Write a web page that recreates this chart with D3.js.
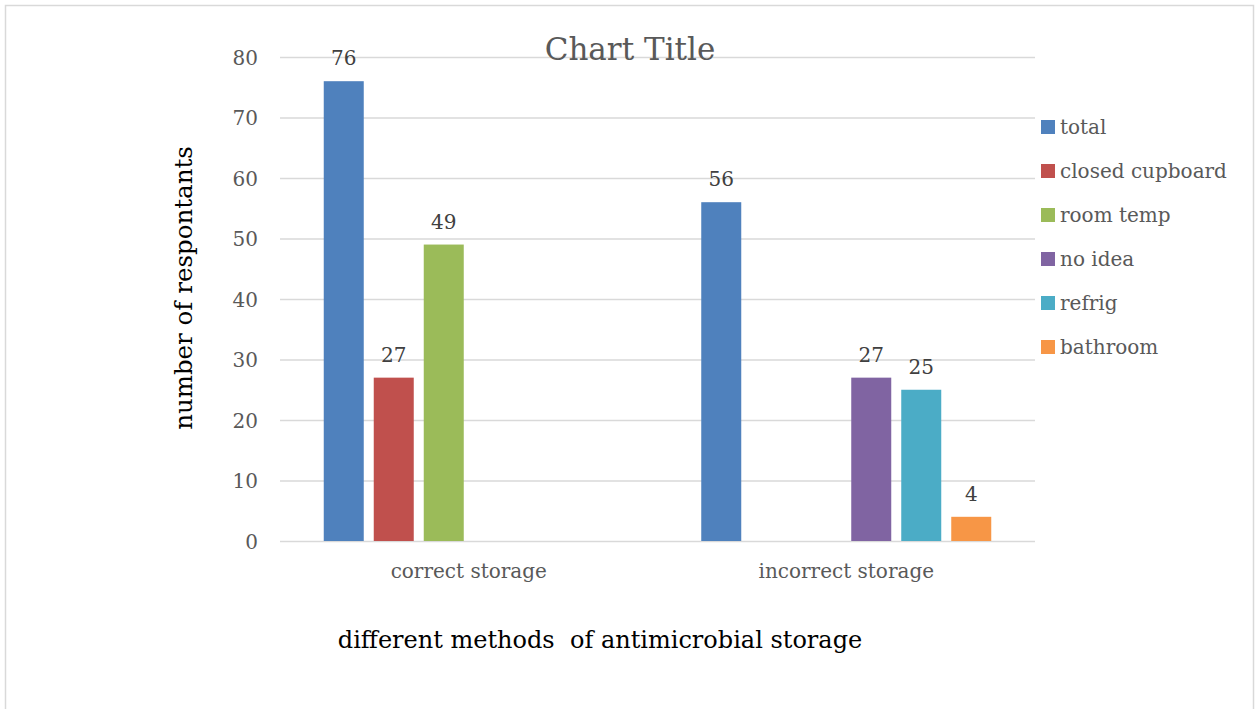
<!DOCTYPE html>
<html><head><meta charset="utf-8">
<script src="https://cdn.jsdelivr.net/npm/d3@7"></script>
<style>
html,body{margin:0;padding:0;background:#fff;}
text{font-family:"DejaVu Serif","Liberation Serif",serif;}
</style></head>
<body>
<svg id="chart" width="1256" height="709"></svg>
<script>
const categories = ["correct storage", "incorrect storage"];
const seriesNames = ["total", "closed cupboard", "room temp", "no idea", "refrig", "bathroom"];
const seriesColors = ["#4F81BD", "#C0504D", "#9BBB59", "#8064A2", "#4BACC6", "#F79646"];
// values per series, indexed by category (null = no bar)
const total = [76, 56];
const closedCupboard = [27, null];
const roomTemp = [49, null];
const noIdea = [null, 27];
const refrig = [null, 25];
const bathroom = [null, 4];
const yTicks = [0, 10, 20, 30, 40, 50, 60, 70, 80];
const seriesValues = [total, closedCupboard, roomTemp, noIdea, refrig, bathroom];

const svg = d3.select("#chart");
// chart border
svg.append("rect").attr("x",5.5).attr("y",5.5).attr("width",1248).attr("height",720)
  .attr("fill","#fff").attr("stroke","#d9d9d9").attr("stroke-width",1.5);

const plot = {left:280, right:1035, top:57, bottom:541};
const y = d3.scaleLinear().domain([0,80]).range([plot.bottom, plot.top]);
const x0 = d3.scaleBand().domain(categories).range([plot.left, plot.right]).paddingInner(0).paddingOuter(0);
const x1 = d3.scaleBand().domain(seriesNames).range([0, x0.bandwidth()]).paddingInner(0.2).paddingOuter(0.875);

// gridlines
const yAxis = d3.axisLeft(y).tickValues(yTicks).tickSize(-(plot.right-plot.left)).tickPadding(22);
const gy = svg.append("g").attr("transform",`translate(${plot.left},0)`).call(yAxis);
gy.select(".domain").remove();
gy.selectAll(".tick line").attr("stroke","#d9d9d9").attr("stroke-width",1.5);
gy.selectAll(".tick text").attr("fill","#595959").style("font-size","20px").attr("dy","0.35em");

// x labels
const xAxis = d3.axisBottom(x0).tickSize(0).tickPadding(23);
const gx = svg.append("g").attr("transform",`translate(0,${plot.bottom})`).call(xAxis);
gx.select(".domain").remove();
gx.selectAll(".tick text").attr("fill","#595959").style("font-size","20px");

// bars
const data = [];
categories.forEach((c,ci)=>{
  seriesNames.forEach((s,si)=>{
    const v = seriesValues[si][ci];
    if (v !== null) data.push({c, s, v, color: seriesColors[si]});
  });
});
const bars = svg.append("g");
bars.selectAll("rect").data(data).join("rect")
  .attr("x", d=>x0(d.c)+x1(d.s))
  .attr("y", d=>y(d.v))
  .attr("width", x1.bandwidth())
  .attr("height", d=>y(0)-y(d.v))
  .attr("fill", d=>d.color);
bars.selectAll("text").data(data).join("text")
  .attr("x", d=>x0(d.c)+x1(d.s)+x1.bandwidth()/2)
  .attr("y", d=>y(d.v)-16)
  .attr("text-anchor","middle")
  .attr("fill","#404040")
  .style("font-size","20px")
  .text(d=>d.v);

// title
svg.append("text").attr("x",630).attr("y",60).attr("text-anchor","middle")
  .attr("fill","#595959").style("font-size","31px").text("Chart Title");

// axis titles
svg.append("text").attr("transform","translate(192,288) rotate(-90)").attr("text-anchor","middle")
  .attr("fill","#000").style("font-size","24.5px").text("number of respontants");
svg.append("text").attr("x",600).attr("y",648).attr("text-anchor","middle")
  .attr("fill","#000").style("font-size","24px").attr("xml:space","preserve")
  .text("different methods  of antimicrobial storage");

// legend
const legend = svg.append("g").attr("transform","translate(1041,127)");
const li = legend.selectAll("g").data(seriesNames).join("g")
  .attr("transform",(d,i)=>`translate(0,${i*44})`);
li.append("rect").attr("x",0).attr("y",-7).attr("width",14).attr("height",14)
  .attr("fill",(d,i)=>seriesColors[i]);
li.append("text").attr("x",19).attr("y",0).attr("dy","0.35em").attr("fill","#595959")
  .style("font-size","20px").text(d=>d);
</script>
</body></html>
